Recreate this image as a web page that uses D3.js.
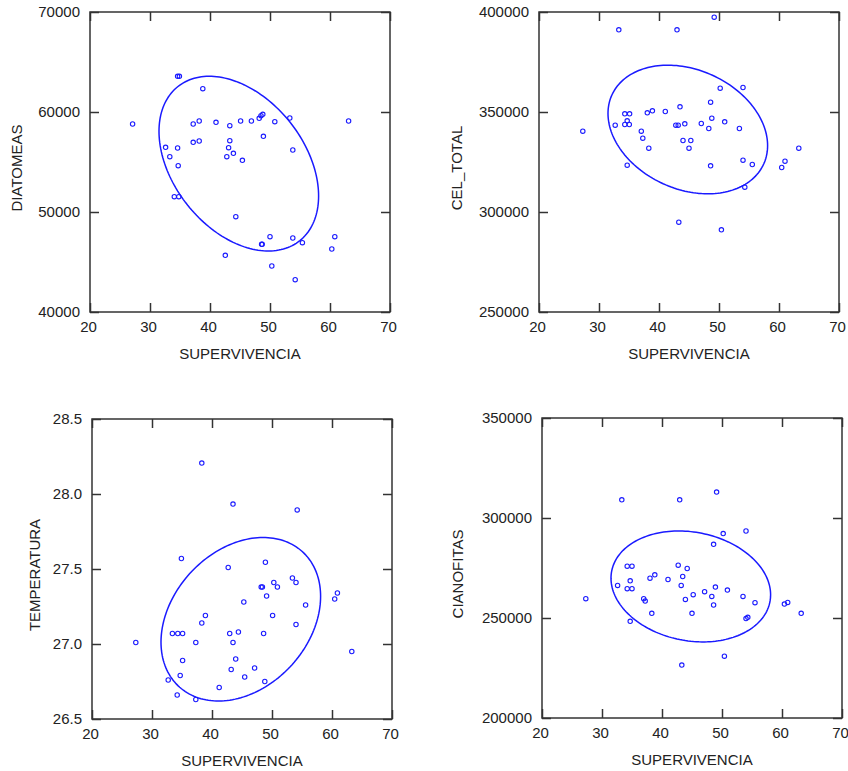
<!DOCTYPE html>
<html>
<head>
<meta charset="utf-8">
<script src="https://cdn.jsdelivr.net/npm/d3@7"></script>
<style>
  body { margin: 0; background: #fff; }
  svg { display: block; font-family: "Liberation Sans", Arial, sans-serif; }
</style>
</head>
<body>
<div class="chart"></div>
<script>
// x axis is the same for every panel
const xTicks = [20, 30, 40, 50, 60, 70];

// DIATOMEAS vs SUPERVIVENCIA
const diatX = [34.6,34.9,38.8,27.1,37.2,38.2,41.0,43.3,45.1,46.9,48.2,48.5,48.8,50.8,53.3,63.1,37.2,38.2,43.3,43.1,42.8,43.9,48.9,53.8,32.6,34.6,33.3,45.4,34.7,34.05,34.8,44.3,50.0,48.6,48.7,53.8,55.4,60.8,60.3,42.55,50.3,54.2];
const diatY = [63570,63570,62330,58800,58800,59100,58970,58630,59100,59100,59370,59630,59770,59030,59400,59100,56970,57100,57130,56430,55530,55870,57570,56200,56470,56400,55530,55170,54630,51530,51530,49530,47530,46770,46770,47400,46930,47530,46300,45670,44600,43230];
const diatTicks = [40000, 50000, 60000, 70000];

// CEL_TOTAL vs SUPERVIVENCIA
const celX = [49.2,33.3,43.0,50.2,54.0,48.6,43.5,34.3,35.1,38.05,38.9,41.05,32.7,34.3,35.05,34.7,27.3,37.05,37.3,38.3,42.8,43.2,44.3,47.05,48.8,48.3,50.95,53.4,44.0,45.3,45.0,63.3,54.0,61.0,34.7,48.6,55.55,60.45,54.3,43.3,50.4];
const celY = [397400,391100,391100,361900,362250,354900,352600,349100,349100,349600,350600,350250,343400,343750,343750,345600,340400,340400,336900,331900,343400,343400,344100,344250,346900,341750,345100,341750,335750,335750,331900,331900,325900,325400,323400,323100,323750,322250,312400,294900,291100];
const celTicks = [250000, 300000, 350000, 400000];

// TEMPERATURA vs SUPERVIVENCIA
const tempX = [38.3,43.5,54.2,34.9,48.9,42.7,48.2,48.4,50.3,50.9,53.4,54.0,49.1,60.9,60.45,45.3,55.6,50.1,54.0,38.9,38.3,33.4,34.3,35.1,42.95,44.4,48.6,27.3,37.3,43.5,63.3,35.1,43.95,43.2,47.1,34.7,45.45,32.7,48.8,41.2,34.2,37.3];
const tempY = [28.206,27.933,27.894,27.57,27.545,27.51,27.38,27.38,27.41,27.38,27.44,27.41,27.32,27.34,27.30,27.28,27.26,27.19,27.13,27.19,27.14,27.07,27.07,27.07,27.07,27.08,27.07,27.01,27.01,27.01,26.95,26.89,26.90,26.83,26.84,26.79,26.78,26.76,26.75,26.71,26.66,26.63];
const tempTicks = [26.5, 27.0, 27.5, 28.0, 28.5];

// CIANOFITAS vs SUPERVIVENCIA
const cianX = [33.3,42.95,49.1,50.2,54.0,48.6,34.2,35.0,42.7,44.2,38.8,38.0,41.0,43.45,34.7,32.6,34.2,35.0,43.2,27.3,36.95,37.2,43.9,45.2,47.1,48.9,48.3,48.6,50.9,53.5,55.5,60.4,60.95,63.2,38.3,45.0,54.0,54.3,34.7,50.4,43.3];
const cianY = [309100,309100,312950,292200,293500,286850,275900,275900,276400,274750,271600,269900,269250,270750,268600,266300,264650,264650,266300,259650,259650,258450,259300,261650,263150,265450,260800,256500,263950,260800,257650,256950,257800,252350,252350,252350,249700,250350,248350,230900,226450];
const cianTicks = [200000, 250000, 300000, 350000];

// ellipses: centre / half extents / tilt (correlation)
const ellCx = 44.8;
const ellRx = 13.3;
const ellCy = [54835, 341250, 27.165, 265775];
const ellRy = [8735, 32150, 0.545, 27725];
const ellCorr = [-0.37, -0.25, 0.28, -0.15];

const panels = [
  { title: "DIATOMEAS", xs: diatX, ys: diatY, ticks: diatTicks, fmt: d3.format("d"), left: 90, top: 12, titleOff: 73 },
  { title: "CEL_TOTAL", xs: celX, ys: celY, ticks: celTicks, fmt: d3.format("d"), left: 539, top: 12, titleOff: 82 },
  { title: "TEMPERATURA", xs: tempX, ys: tempY, ticks: tempTicks, fmt: d3.format(".1f"), left: 92, top: 419, titleOff: 57 },
  { title: "CIANOFITAS", xs: cianX, ys: cianY, ticks: cianTicks, fmt: d3.format("d"), left: 542, top: 418, titleOff: 84 }
];

const W = 848, H = 771, size = 300;
const blue = "#1a1aff", ink = "#333";

const svg = d3.select(".chart").append("svg")
  .attr("width", W)
  .attr("height", H);

panels.forEach((p, i) => {
  const g = svg.append("g").attr("transform", `translate(${p.left},${p.top})`);

  const x = d3.scaleLinear().domain([20, 70]).range([0, size]);
  const y = d3.scaleLinear().domain(d3.extent(p.ticks)).range([size, 0]);

  // inward ticks on all four sides
  const styleAxis = sel => {
    sel.select(".domain").remove();
    sel.selectAll(".tick line").attr("stroke", ink).attr("stroke-width", 1.5);
    sel.selectAll("text").attr("fill", "#222").style("font-size", "15px");
  };
  g.append("g").attr("transform", `translate(0,${size})`)
    .call(d3.axisBottom(x).tickValues(xTicks).tickSize(-9).tickPadding(9))
    .call(styleAxis)
    .selectAll("text").attr("dx", -2);
  g.append("g")
    .call(d3.axisTop(x).tickValues(xTicks).tickSize(-9).tickFormat(""))
    .call(styleAxis);
  g.append("g")
    .call(d3.axisLeft(y).tickValues(p.ticks).tickSize(-9).tickPadding(10).tickFormat(p.fmt))
    .call(styleAxis);
  g.append("g").attr("transform", `translate(${size},0)`)
    .call(d3.axisRight(y).tickValues(p.ticks).tickSize(-9).tickFormat(""))
    .call(styleAxis);

  g.append("rect")
    .attr("width", size).attr("height", size)
    .attr("fill", "none").attr("stroke", ink).attr("stroke-width", 1.5);

  // axis titles
  g.append("text")
    .attr("x", size / 2).attr("y", size + 42)
    .attr("dy", "0.35em")
    .attr("text-anchor", "middle")
    .attr("fill", "#222").style("font-size", "15px")
    .text("SUPERVIVENCIA");
  g.append("text")
    .attr("transform", `translate(${-p.titleOff},${size / 2 + 6}) rotate(-90)`)
    .attr("dy", "0.35em")
    .attr("text-anchor", "middle")
    .attr("fill", "#222").style("font-size", "15px")
    .text(p.title);

  // ellipse
  const ts = d3.range(0, 2 * Math.PI, Math.PI / 90);
  const r = ellCorr[i];
  const ell = d3.line()
    .x(t => x(ellCx + ellRx * Math.cos(t)))
    .y(t => y(ellCy[i] + ellRy[i] * (r * Math.cos(t) + Math.sqrt(1 - r * r) * Math.sin(t))))
    .curve(d3.curveLinearClosed);
  g.append("path")
    .attr("d", ell(ts))
    .attr("fill", "none")
    .attr("stroke", blue)
    .attr("stroke-width", 1.5);

  // points
  g.selectAll("circle.pt")
    .data(d3.zip(p.xs, p.ys))
    .enter()
    .append("circle")
    .attr("class", "pt")
    .attr("cx", d => x(d[0]))
    .attr("cy", d => y(d[1]))
    .attr("r", 2.2)
    .attr("fill", "none")
    .attr("stroke", blue)
    .attr("stroke-width", 1.1);
});
</script>
</body>
</html>
